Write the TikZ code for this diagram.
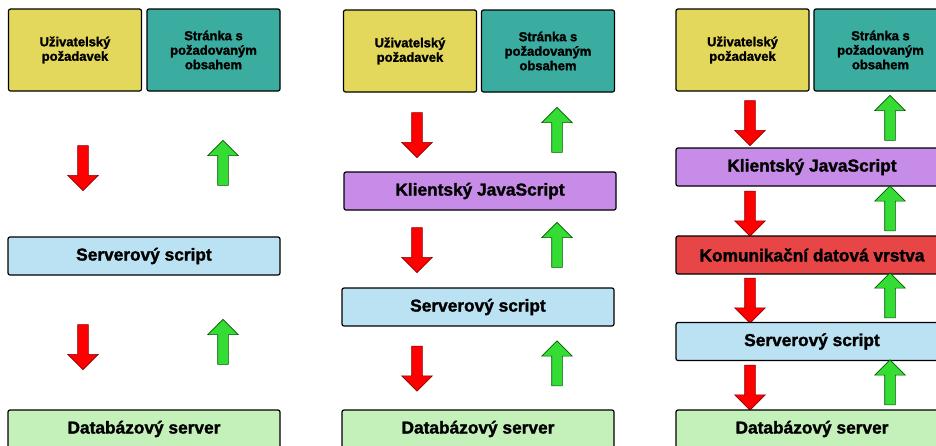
\documentclass[tikz,border=0pt]{standalone}
\usepackage{fontspec}
\setmainfont{Liberation Sans}[BoldFeatures={FakeBold=1.6}]
\usetikzlibrary{shapes.arrows}

\definecolor{userYellow}{RGB}{228,216,92}
\definecolor{pageTeal}{RGB}{58,172,160}
\definecolor{serverBlue}{RGB}{186,226,242}
\definecolor{dbGreen}{RGB}{196,240,186}
\definecolor{jsPurple}{RGB}{198,140,232}
\definecolor{dataRed}{RGB}{232,70,70}
\definecolor{upGreen}{RGB}{52,220,52}

\begin{document}
\begin{tikzpicture}[x=1pt, y=-1pt,
                box_style/.style={draw=black, line width=1.2pt, rounded corners=2pt, inner sep=0pt, align=center,
                  font=\bfseries\fontsize{13}{14.5}\selectfont, minimum width=133pt, minimum height=82pt},
                layer_style/.style={draw=black, line width=1.2pt, rounded corners=2pt, inner sep=0pt,
                  font=\bfseries\fontsize{17.3}{20}\selectfont, minimum width=272pt, minimum height=38pt},
                arrow_style/.style={single arrow, single arrow head extend=10pt, inner xsep=0pt, inner ysep=5pt,
                  minimum height=45pt, minimum width=30pt, line width=0.6pt},
                down_style/.style={arrow_style, rotate=-90, fill=red, draw=red!55!black},
                up_style/.style={arrow_style, rotate=90, fill=upGreen, draw=green!35!black}]
                \clip (0,0) rectangle (936,445);
                \fill[white] (0,0) rectangle (936,445);
                % first column
                \node[box_style, fill=userYellow] (user1) at (75,50) {Uživatelský\\požadavek};
                \node[box_style, fill=pageTeal] (page1) at (213.5,50) {Stránka s\\požadovaným\\obsahem};
                \node[down_style] (down1a) at (83,165.5) {};
                \node[up_style] (up1a) at (223,165.5) {};
                \node[layer_style, fill=serverBlue] (server1) at (144,256) {Serverový script};
                \node[down_style] (down1b) at (83,344.5) {};
                \node[up_style] (up1b) at (223,344.5) {};
                \node[layer_style, fill=dbGreen] (db1) at (144,429) {Databázový server};
                % second column
                \node[box_style, fill=userYellow] (user2) at (410,51) {Uživatelský\\požadavek};
                \node[box_style, fill=pageTeal] (page2) at (548,51) {Stránka s\\požadovaným\\obsahem};
                \node[down_style] (down2a) at (417,132.5) {};
                \node[up_style] (up2a) at (557,132.5) {};
                \node[layer_style, fill=jsPurple] (js2) at (480,191) {Klientský JavaScript};
                \node[down_style] (down2b) at (417,247.5) {};
                \node[up_style] (up2b) at (557,247.5) {};
                \node[layer_style, fill=serverBlue] (server2) at (478,307) {Serverový script};
                \node[down_style] (down2c) at (417,366) {};
                \node[up_style] (up2c) at (557,366) {};
                \node[layer_style, fill=dbGreen] (db2) at (478,429) {Databázový server};
                % third column
                \node[box_style, fill=userYellow] (user3) at (742.5,50) {Uživatelský\\požadavek};
                \node[box_style, fill=pageTeal] (page3) at (880.5,50) {Stránka s\\požadovaným\\obsahem};
                \node[down_style] (down3a) at (750,120.5) {};
                \node[up_style] (up3a) at (890,120.5) {};
                \node[layer_style, fill=jsPurple] (js3) at (812,167) {Klientský JavaScript};
                \node[down_style] (down3b) at (750,211) {};
                \node[up_style] (up3b) at (890,211) {};
                \node[layer_style, fill=dataRed] (data3) at (812,255) {Komunikační datová vrstva};
                \node[down_style] (down3c) at (750,298) {};
                \node[up_style] (up3c) at (890,298) {};
                \node[layer_style, fill=serverBlue] (server3) at (812,341.5) {Serverový script};
                \node[down_style] (down3d) at (750,385) {};
                \node[up_style] (up3d) at (890,385) {};
                \node[layer_style, fill=dbGreen] (db3) at (812,429) {Databázový server};
            \end{tikzpicture}
\end{document}
